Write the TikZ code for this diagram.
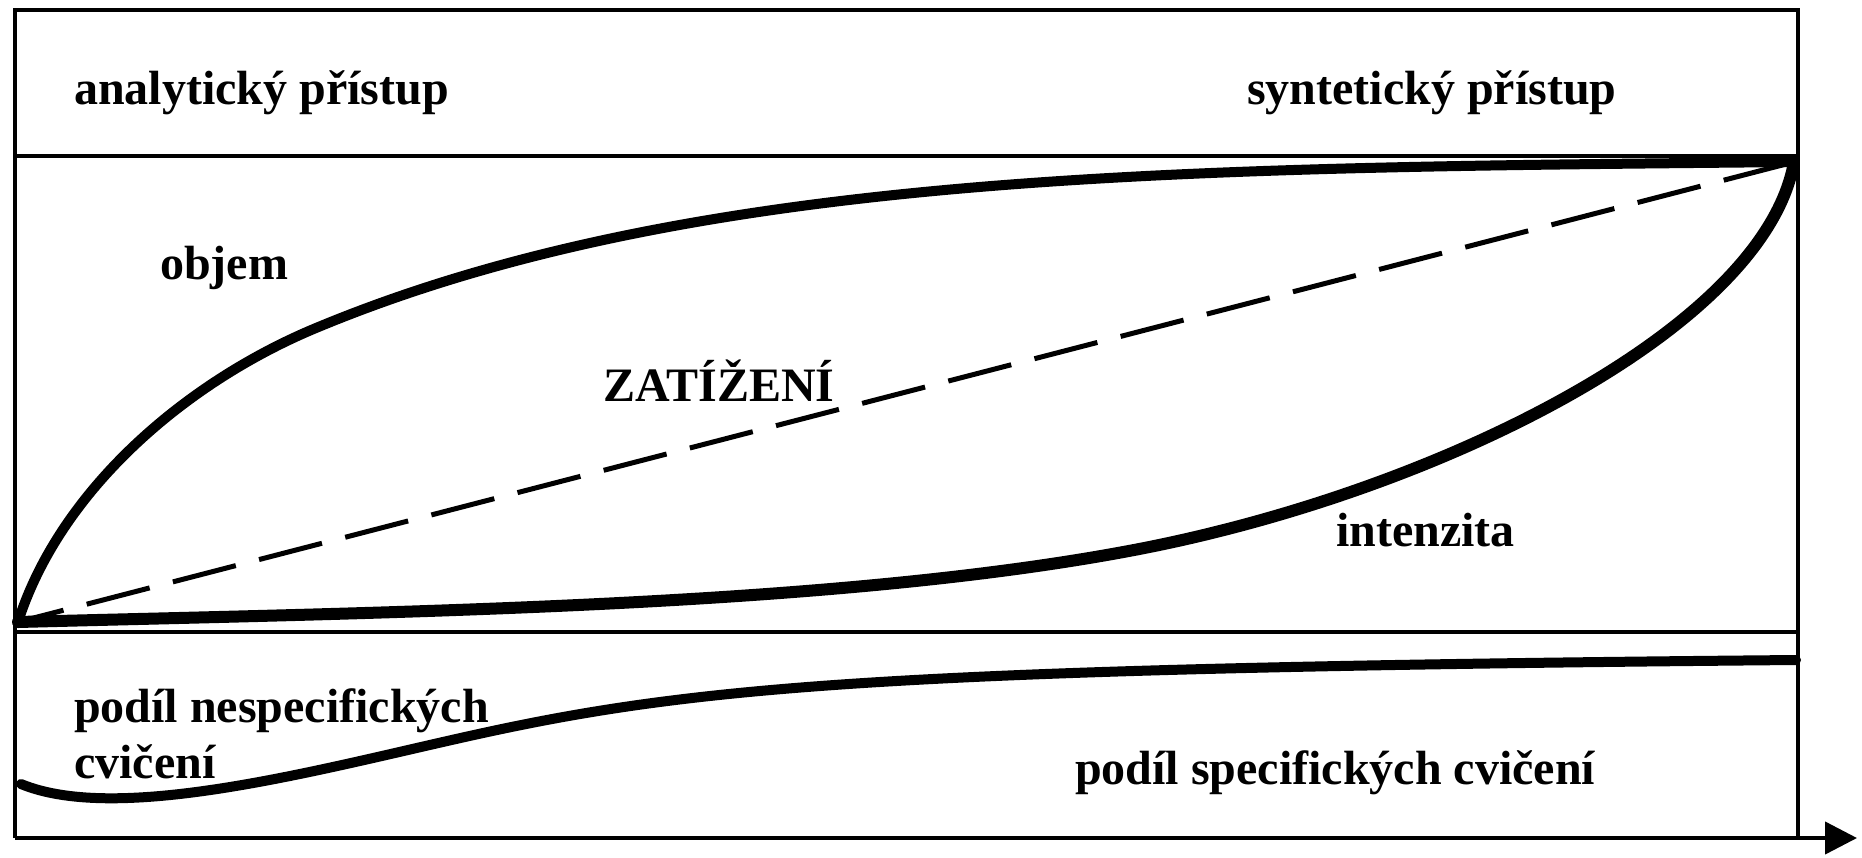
\documentclass[tikz,border=0pt]{standalone}
\usepackage{fontspec}
\setmainfont{Liberation Serif}
\usetikzlibrary{arrows.meta}
\begin{document}
\begin{tikzpicture}[x=1pt,y=-1pt,
  frameline/.style={line width=4.3pt},
  curve/.style={line width=10pt, line cap=round},
  dashline/.style={line width=5pt, dash pattern=on 65pt off 24pt, dash phase=18pt},
  lbl/.style={font=\fontsize{48}{56}\selectfont\bfseries, inner sep=0pt, anchor=base west}]
\useasboundingbox (0,0) rectangle (1862,857);
% frame coordinates
\coordinate (TL) at (15,10);
\coordinate (TR) at (1798,10);
\coordinate (BL) at (15,838);
\coordinate (BR) at (1798,838);
\coordinate (tip) at (1857,838);
\coordinate (L1) at (15,156);
\coordinate (R1) at (1798,156);
\coordinate (L2) at (15,632);
\coordinate (R2) at (1798,632);
\coordinate (O) at (18,622);
\coordinate (E) at (1794,162);
\coordinate (S) at (21,784);
\coordinate (F) at (1796,660);
% frame
\draw[frameline, line join=miter] (BL) -- (TL) -- (TR) -- (BR);
\draw[frameline, -{Triangle[length=32pt,width=32pt]}] (BL) -- (tip);
\draw[frameline] (L1) -- (R1);
\draw[frameline] (L2) -- (R2);
% objem curve
\draw[curve] (O) .. controls (60,490) and (186,382) .. (316,328)
  .. controls (700,168) and (1200,168) .. (E);
% intenzita curve
\draw[curve, line width=12pt] (O) .. controls (400,612) and (834,607) .. (1134,550)
  .. controls (1434,493) and (1764,330) .. (E);
% dashed line
\draw[dashline] (O) -- (E);
% share curve
\draw[curve] (S) .. controls (120,825) and (324,768) .. (474,735)
  .. controls (700,685) and (900,668) .. (F);
% labels
\node[lbl] (analyt) at (74,104) {analytický přístup};
\node[lbl] (synt) at (1247,104) {syntetický přístup};
\node[lbl] (objem) at (160,279) {objem};
\node[lbl] (zat) at (603,401) {ZATÍŽENÍ};
\node[lbl] (int) at (1336,546) {intenzita};
\node[lbl] (nesp) at (74,722) {podíl nespecifických};
\node[lbl] (cvic) at (74,778) {cvičení};
\node[lbl] (spec) at (1075,784) {podíl specifických cvičení};
\end{tikzpicture}
\end{document}
